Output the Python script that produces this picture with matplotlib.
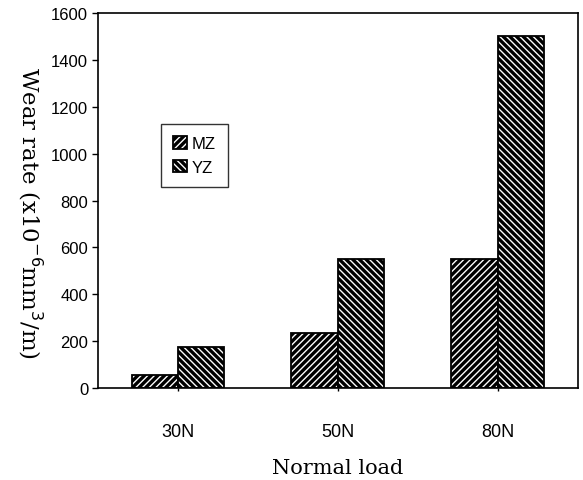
import matplotlib
matplotlib.use("Agg")
import matplotlib.pyplot as plt
import numpy as np

categories = ["30N", "50N", "80N"]
mz = [55, 235, 550]
yz = [175, 550, 1500]
series_names = ["MZ", "YZ"]
yticks = [0, 200, 400, 600, 800, 1000, 1200, 1400, 1600]

plt.rcParams['hatch.linewidth'] = 2.4
plt.rcParams['hatch.color'] = 'black'

fig = plt.figure(figsize=(5.83, 4.81), dpi=100)
ax = fig.add_axes([0.168, 0.191, 0.823, 0.780])

x = np.arange(len(categories))
w = 0.29
ax.bar(x - w/2, mz, w, facecolor='white', edgecolor='black', linewidth=1.3,
       hatch='/////', label=series_names[0])
ax.bar(x + w/2, yz, w, facecolor='white', edgecolor='black', linewidth=1.3,
       hatch='\\\\\\\\\\', label=series_names[1])

ax.set_xlim(-0.5, 2.5)
ax.set_ylim(0, 1600)
ax.set_yticks(yticks)
ax.set_xticks(x)
ax.set_xticklabels(categories)

for lbl in ax.get_yticklabels():
    lbl.set_fontfamily('Liberation Sans')
    lbl.set_fontsize(12)
for lbl in ax.get_xticklabels():
    lbl.set_fontfamily('Liberation Sans')
    lbl.set_fontsize(13)
ax.tick_params(axis='x', length=2, width=1, direction='out', pad=23)
ax.tick_params(axis='y', length=4, width=1, direction='out', pad=3)

for s in ax.spines.values():
    s.set_linewidth(1.2)

fig.text(338 / 583, 1 - 474 / 481, "Normal load", family='DejaVu Serif', size=15,
         ha='center', va='baseline')
ax.set_ylabel("Wear rate (x10$^{-6}$mm$^{3}$/m)", family='DejaVu Serif', size=16.5,
              rotation=270, labelpad=22)
ax.yaxis.set_label_coords(-0.17, 0.47)

leg = ax.legend(loc='upper left', bbox_to_anchor=(0.131, 0.705), frameon=True,
                fancybox=False, edgecolor='black', handlelength=0.8, handleheight=0.8,
                handletextpad=0.3, borderpad=0.75, labelspacing=0.5, borderaxespad=0,
                prop=dict(family='Liberation Sans', size=12))
leg.get_frame().set_linewidth(1.0)

fig.savefig("out.png", dpi=100)
